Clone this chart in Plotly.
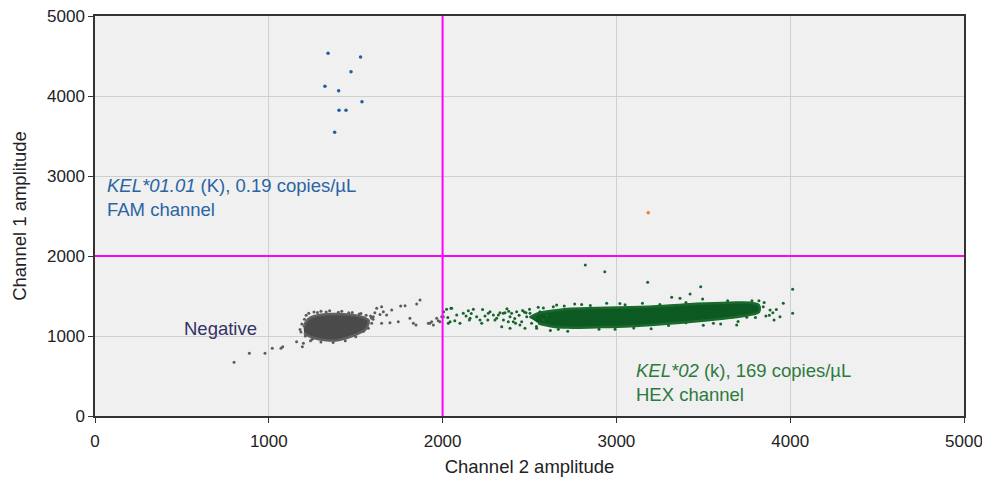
import plotly.graph_objects as go

# ---------------- data ----------------
thr_ch2 = 2000  # vertical threshold (Channel 2)
thr_ch1 = 2000  # horizontal threshold (Channel 1)

# FAM-positive droplets (blue)
fam_x = [1341, 1528, 1473, 1323, 1402, 1536, 1404, 1444, 1379]
fam_y = [4534, 4487, 4304, 4121, 4066, 3929, 3821, 3821, 3546]

# double positive droplet (orange)
dp_x = [3183]
dp_y = [2541]

# negative cluster outline (dense core)
neg_core_x = [1200, 1215, 1240, 1290, 1352, 1430, 1500, 1550, 1575, 1570, 1555, 1520, 1480, 1430, 1385, 1320, 1260, 1225, 1203]
neg_core_y = [1110, 1180, 1230, 1262, 1275, 1272, 1255, 1228, 1195, 1135, 1080, 1035, 1000, 965, 945, 950, 975, 1005, 1040]
# negative scattered droplets
neg_x = [800, 888, 978, 1020, 1070, 1080, 1160, 1193, 1199, 1621, 1649, 1659, 1707, 1759, 1784, 1851, 1870,
         1812, 1832, 1847, 1697, 1745, 1927, 1947, 1975, 1995, 1601, 1592, 1573, 1610, 1640, 1215, 1230,
         1260, 1300, 1350, 1420, 1480, 1530, 1560, 1590, 1180, 1210, 1250, 1190, 1205, 1280, 1330, 1400,
         1460, 1520, 1585, 1600, 1545, 1500, 1440, 1370, 1300, 1240, 1185,
         1678, 1649, 1918, 1937, 1966, 1985, 2004, 2004]
neg_y = [671, 783, 783, 846, 846, 867, 929, 867, 908, 1346, 1367, 1304, 1325, 1375, 1379, 1400, 1450,
         1221, 1158, 1137, 1167, 1179, 1158, 1137, 1192, 1242, 1242, 1158, 1096, 1290, 1270, 1260, 1285,
         1300, 1310, 1315, 1308, 1295, 1280, 1260, 1225, 1080, 1000, 960, 1150, 1210, 1295, 1300, 1298,
         1290, 1275, 1250, 1210, 1060, 990, 940, 920, 925, 940, 1050,
         1263, 1158, 1158, 1179, 1221, 1179, 1304, 1242]

# HEX-positive cluster outline (dense core)
hex_core_x = [2500, 2550, 2630, 2720, 2887, 3078, 3270, 3462, 3654, 3769, 3820, 3820, 3769, 3654, 3462,
              3270, 3078, 2887, 2720, 2630, 2550]
hex_core_y = [1230, 1285, 1315, 1338, 1350, 1360, 1376, 1402, 1416, 1416, 1385, 1300, 1265, 1228, 1185,
              1150, 1122, 1110, 1105, 1120, 1160]
# HEX-positive scattered droplets
hex_x = [2004, 2052, 2081, 2119, 2148, 2177, 2158, 2196, 2215, 2244, 2273, 2292, 2311, 2340, 2359, 2388,
         2407, 2426, 2445, 2656, 2666, 2944, 3318, 3366, 3424, 3485, 3496, 3960, 4014, 4014, 3907, 3941,
         3845, 3884, 2992, 3692, 3558, 3730, 2388, 2100, 2043, 2821, 2933, 3180, 2760, 2800, 3020, 3150,
         3200, 3600, 3700, 3880, 3920, 2550, 2480, 2620, 2720,
         2030, 2070, 2135, 2165, 2230, 2260, 2330, 2370, 2415, 2460, 2500, 2540, 2580, 2700, 2850, 2900,
         3050, 3100, 3250, 3400, 3500, 3780, 3800, 3850, 3900, 3860, 3820, 3750, 3640, 3400, 3300, 2470,
         2440, 2420, 2380, 2350,
         2023, 2048, 2033, 2154, 2225, 2263, 2301, 2321, 2349, 2378, 2397, 2455, 2474, 2484, 2503, 2512,
         2532, 2541, 2560, 2580, 2599, 2618, 2637]
hex_y = [1304, 1346, 1263, 1284, 1317, 1334, 1221, 1242, 1200, 1250, 1304, 1263, 1221, 1117, 1292, 1242,
         1179, 1304, 1138, 1388, 1084, 1409, 1483, 1471, 1525, 1617, 1463, 1409, 1584, 1284, 1200, 1242,
         1367, 1325, 1084, 1138, 1158, 1409, 1096, 1158, 1179, 1887, 1804, 1671, 1400, 1395, 1405, 1410,
         1090, 1150, 1180, 1260, 1330, 1360, 1290, 1070, 1060,
         1230, 1190, 1250, 1280, 1330, 1200, 1290, 1340, 1220, 1320, 1335, 1120, 1350, 1375, 1380, 1085,
         1390, 1100, 1395, 1420, 1135, 1440, 1230, 1420, 1290, 1250, 1440, 1235, 1440, 1165, 1130, 1300,
         1260, 1160, 1310, 1200,
         1334, 1346, 1158, 1200, 1158, 1284, 1200, 1263, 1284, 1179, 1284, 1179, 1096, 1242, 1284, 1158,
         1221, 1096, 1304, 1200, 1263, 1138, 1367]

x_ticks = [0, 1000, 2000, 3000, 4000, 5000]
y_ticks = [0, 1000, 2000, 3000, 4000, 5000]

# ---------------- figure ----------------
BLUE = "#1f5f9f"
GREEN = "#0c5a22"
GRAY = "#4a4a4a"
FONT = "Liberation Sans, Arial, Helvetica, sans-serif"

fig = go.Figure()

fig.add_trace(go.Scatter(x=neg_core_x, y=neg_core_y, mode="lines", fill="toself",
                         fillcolor=GRAY, line=dict(color="#606060", width=2.5, shape="spline"),
                         hoverinfo="skip", showlegend=False))
fig.add_trace(go.Scatter(x=neg_x, y=neg_y, mode="markers",
                         marker=dict(color="#5c5c5c", size=3), showlegend=False))

fig.add_trace(go.Scatter(x=hex_core_x, y=hex_core_y, mode="lines", fill="toself",
                         fillcolor=GREEN, line=dict(color="#1a6a2e", width=2.5, shape="spline"),
                         hoverinfo="skip", showlegend=False))
fig.add_trace(go.Scatter(x=hex_x, y=hex_y, mode="markers",
                         marker=dict(color="#16652a", size=3), showlegend=False))

fig.add_trace(go.Scatter(x=fam_x, y=fam_y, mode="markers",
                         marker=dict(color=BLUE, size=3.5), showlegend=False))
fig.add_trace(go.Scatter(x=dp_x, y=dp_y, mode="markers",
                         marker=dict(color="#f07c2a", size=3.5), showlegend=False))

fig.add_vline(x=thr_ch2, line=dict(color="#ff00ff", width=2))
fig.add_hline(y=thr_ch1, line=dict(color="#ff00ff", width=2))

fig.add_annotation(x=60, y=2737, xref="x", yref="y", xanchor="left", yanchor="middle", showarrow=False,
                   align="left",
                   text="<i>KEL*01.01</i> (K), 0.19 copies/µL<br>FAM channel",
                   font=dict(family=FONT, size=18.5, color="#2a64a4"))
fig.add_annotation(x=500, y=1100, xref="x", yref="y", xanchor="left", yanchor="middle", showarrow=False,
                   text="Negative", font=dict(family=FONT, size=18.5, color="#333366"))
fig.add_annotation(x=3100, y=425, xref="x", yref="y", xanchor="left", yanchor="middle", showarrow=False,
                   align="left",
                   text="<i>KEL*02</i> (k), 169 copies/µL<br>HEX channel",
                   font=dict(family=FONT, size=18.5, color="#2e7a3e"))

axis_common = dict(showline=True, linecolor="#333333", linewidth=1.5, mirror=True,
                   ticks="outside", ticklen=5, tickcolor="#333333",
                   gridcolor="#cfcfcf", gridwidth=1, zeroline=False, automargin=False,
                   ticklabeloverflow="allow",
                   tickfont=dict(family=FONT, size=17, color="#222222"),
                   title_font=dict(family=FONT, size=18.5, color="#222222"))

fig.update_xaxes(range=[0, 5000], tickvals=x_ticks, title_text="Channel 2 amplitude",
                 title_standoff=10, ticklabelstandoff=4, **axis_common)
fig.update_yaxes(range=[0, 5000], tickvals=y_ticks, title_text="Channel 1 amplitude",
                 title_standoff=16, **axis_common)

fig.update_layout(width=982, height=478, margin=dict(l=95, r=18, t=16, b=62),
                  plot_bgcolor="#f0f0f0", paper_bgcolor="white")

# remove the page's default body margin so the figure fills the window exactly
fig.write_html("out.html", config={"displayModeBar": False},
               post_script="document.body.style.margin='0px';document.body.style.overflow='hidden';")
